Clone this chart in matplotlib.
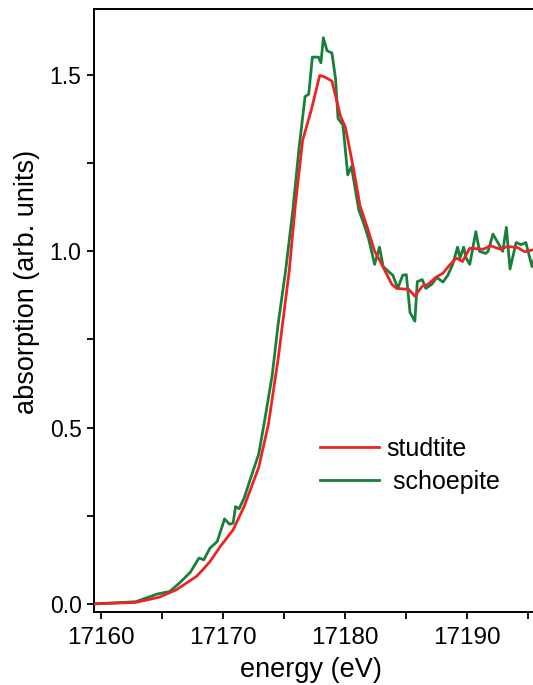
import numpy as np
import matplotlib.pyplot as plt
from matplotlib.ticker import MultipleLocator

plt.rcParams['font.family'] = ['Liberation Sans', 'DejaVu Sans']

# studtite (smooth red curve)
stud_e = [17159.4, 17162.8, 17164.75, 17166.15, 17167.8, 17168.4, 17168.9, 17169.8,
          17170.8, 17171.7, 17172.9, 17173.7, 17174.5, 17175.4, 17175.9, 17176.5,
          17177.2, 17177.9, 17178.3, 17178.9, 17179.6, 17180.0, 17180.7, 17181.2,
          17181.8, 17182.4, 17182.9, 17183.8, 17184.2, 17185.2, 17185.7, 17186.3,
          17186.8, 17187.4, 17188.0, 17188.5, 17189.1, 17189.6, 17190.2, 17191.3,
          17191.9, 17192.7, 17193.3, 17194.1, 17194.7, 17195.6]
stud_mu = [0.0, 0.004, 0.019, 0.04, 0.078, 0.10, 0.12, 0.165,
           0.21, 0.276, 0.387, 0.51, 0.697, 0.944, 1.13, 1.315,
           1.40, 1.499, 1.495, 1.483, 1.384, 1.353, 1.229, 1.13,
           1.068, 1.0, 0.969, 0.907, 0.895, 0.892, 0.873, 0.901,
           0.907, 0.926, 0.938, 0.959, 0.981, 0.971, 1.009, 1.006,
           1.016, 1.006, 1.014, 1.011, 0.999, 1.006]

# schoepite (noisier green curve)
scho_e = [17159.4, 17162.8, 17164.6, 17165.6, 17166.4, 17167.3, 17168.0, 17168.4,
          17168.9, 17169.5, 17170.1, 17170.5, 17170.8, 17171.0, 17171.3, 17171.7,
          17172.3, 17172.9, 17173.4, 17174.0, 17174.5, 17175.1, 17175.7, 17176.2,
          17176.7, 17177.0, 17177.3, 17177.8, 17178.0, 17178.2, 17178.5, 17178.9,
          17179.2, 17179.4, 17179.8, 17180.2, 17180.5, 17181.1, 17181.5, 17181.9,
          17182.4, 17182.8, 17183.1, 17183.5, 17183.9, 17184.3, 17184.7, 17185.0,
          17185.3, 17185.7, 17185.9, 17186.3, 17186.6, 17187.1, 17187.5, 17188.0,
          17188.4, 17188.8, 17189.2, 17189.4, 17189.7, 17189.9, 17190.2, 17190.7,
          17191.0, 17191.5, 17191.7, 17192.1, 17192.6, 17192.9, 17193.2, 17193.5,
          17194.0, 17194.4, 17194.8, 17195.3, 17195.6]
scho_mu = [0.0, 0.006, 0.028, 0.035, 0.059, 0.09, 0.13, 0.125,
           0.158, 0.177, 0.241, 0.226, 0.229, 0.276, 0.27, 0.30,
           0.363, 0.425, 0.523, 0.647, 0.796, 0.944, 1.118, 1.291,
           1.439, 1.446, 1.551, 1.551, 1.535, 1.606, 1.569, 1.563,
           1.489, 1.377, 1.359, 1.217, 1.241, 1.118, 1.08, 1.037,
           0.963, 1.012, 0.957, 0.944, 0.932, 0.895, 0.932, 0.934,
           0.827, 0.802, 0.914, 0.92, 0.895, 0.907, 0.926, 0.913,
           0.932, 0.963, 1.012, 0.981, 1.012, 0.981, 0.963, 1.056,
           1.0, 0.994, 1.0, 1.049, 1.019, 1.0, 1.068, 0.95,
           1.025, 1.019, 1.025, 0.957, 0.994]

fig = plt.figure(figsize=(5.33, 6.85), dpi=100)
ax = fig.add_axes([0.1764, 0.1066, 0.8377, 0.880])

ax.plot(stud_e, stud_mu, color='#ee2424', lw=2.0, label='studtite', zorder=3)
ax.plot(scho_e, scho_mu, color='#17803a', lw=2.0, label=' schoepite', zorder=2)

ax.set_xlim(17159.4, 17196.0)
ax.set_ylim(-0.023, 1.687)
ax.xaxis.set_major_locator(MultipleLocator(10))
ax.xaxis.set_minor_locator(MultipleLocator(5))
ax.yaxis.set_major_locator(MultipleLocator(0.5))
ax.yaxis.set_minor_locator(MultipleLocator(0.25))
ax.yaxis.set_major_formatter(plt.FormatStrFormatter('%.1f'))
ax.tick_params(which='both', direction='out', width=1.3, length=5)
ax.tick_params(axis='x', labelsize=17.5, pad=6)
ax.tick_params(axis='y', labelsize=16.5, pad=4)
for s in ax.spines.values():
    s.set_linewidth(1.4)

ax.set_xlabel('energy (eV)', fontsize=19.5)
ax.xaxis.set_label_coords(0.486, -0.074)
ax.set_ylabel('absorption (arb. units)', fontsize=19.5)
ax.yaxis.set_label_coords(-0.121, 0.547)

ax.legend(loc='upper left', bbox_to_anchor=(0.506, 0.29), frameon=False, fontsize=18,
          handlelength=2.36, handletextpad=0.28, labelspacing=0.35, borderpad=0,
          borderaxespad=0)

fig.savefig('out.png', dpi=100)
